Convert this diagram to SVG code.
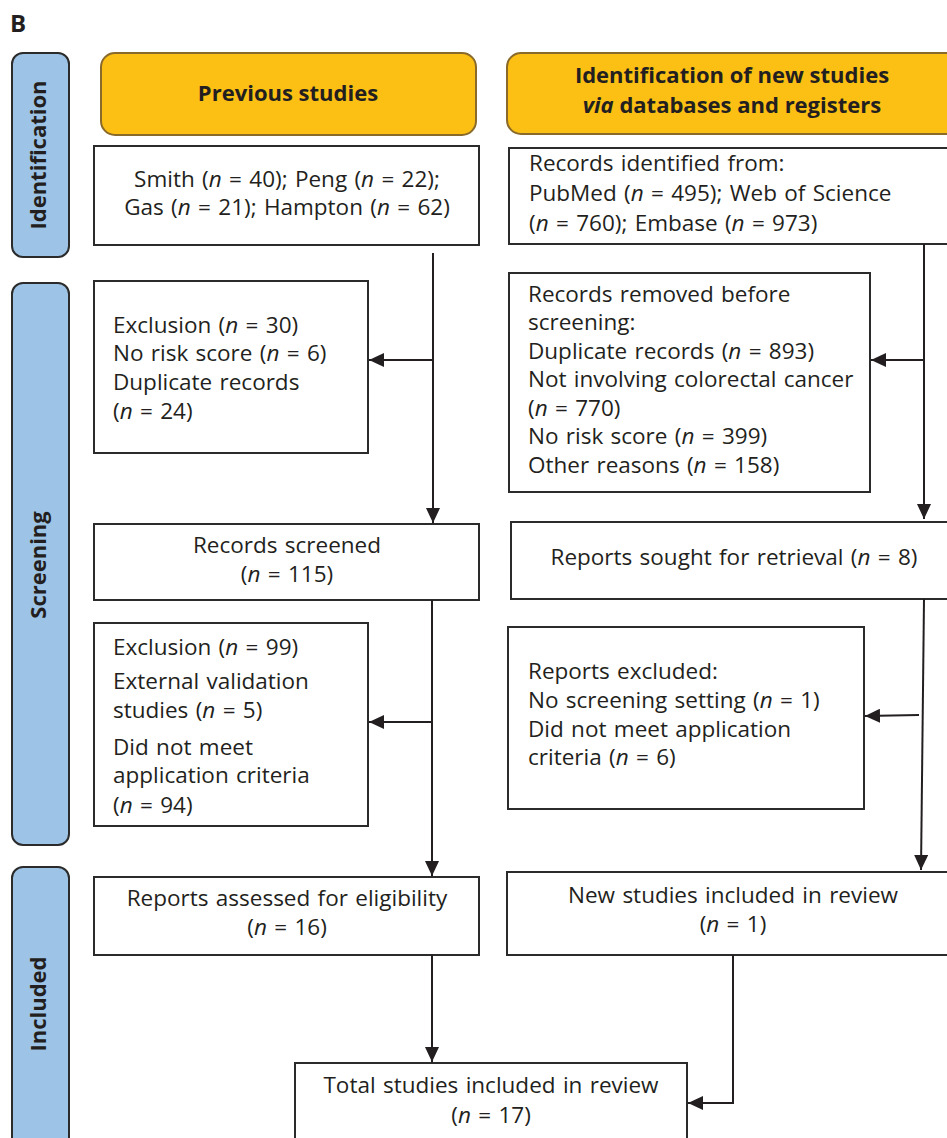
<svg xmlns="http://www.w3.org/2000/svg" width="947" height="1138" viewBox="0 0 947 1138">
<style>
text{font-family:"Open Sans","Noto Sans","Liberation Sans",sans-serif;font-size:22.5px;word-spacing:1.5px;fill:#231f20}
.b{font-weight:bold;font-size:22px;word-spacing:0}
.c{text-anchor:middle}
.i{font-style:italic}
.side{fill:#9dc3e6;stroke:#2b2b2b;stroke-width:2}
.head{fill:#fbc013;stroke:#8a6a2a;stroke-width:2}
.box{fill:#fff;stroke:#2b2b2b;stroke-width:2}
.ln{fill:none;stroke:#231f20;stroke-width:2}
</style>
<defs>
<marker id="ah" markerUnits="userSpaceOnUse" markerWidth="16" markerHeight="14" refX="15" refY="7" orient="auto">
<path d="M0,0 L15,7 L0,14 z" fill="#231f20"/>
</marker>
</defs>
<rect width="947" height="1138" fill="#fff"/>
<text class="b" x="10" y="32" style="font-size:24px">B</text>

<g id="side-identification">
<rect class="side" x="12" y="53" width="57" height="204" rx="11"/>
<text class="b c" transform="translate(46,155) rotate(-90)">Identification</text>
</g>
<g id="side-screening">
<rect class="side" x="12" y="283" width="57" height="562" rx="11"/>
<text class="b c" transform="translate(46,565) rotate(-90)">Screening</text>
</g>
<g id="side-included">
<rect class="side" x="12" y="867" width="57" height="290" rx="11"/>
<text class="b c" transform="translate(46,1004) rotate(-90)">Included</text>
</g>

<g id="head-previous">
<rect class="head" x="101" y="53" width="375" height="82" rx="14"/>
<text class="b c" x="288" y="101">Previous studies</text>
</g>
<g id="head-new">
<rect class="head" x="507" y="53" width="460" height="81" rx="14"/>
<text class="b c" x="732" y="83">Identification of new studies</text>
<text class="b c" x="732" y="113"><tspan class="i">via</tspan> databases and registers</text>
</g>

<g id="prev-records">
<rect class="box" x="94" y="146" width="385" height="99"/>
<text class="c" x="287" y="187">Smith (<tspan class="i">n</tspan> = 40); Peng (<tspan class="i">n</tspan> = 22);</text>
<text class="c" x="287" y="215">Gas (<tspan class="i">n</tspan> = 21); Hampton (<tspan class="i">n</tspan> = 62)</text>
</g>
<g id="new-records">
<rect class="box" x="509" y="148" width="460" height="96"/>
<text x="529" y="171">Records identified from:</text>
<text x="529" y="201">PubMed (<tspan class="i">n</tspan> = 495); Web of Science</text>
<text x="529" y="231">(<tspan class="i">n</tspan> = 760); Embase (<tspan class="i">n</tspan> = 973)</text>
</g>

<g id="prev-exclusion1">
<rect class="box" x="94" y="281" width="274" height="172"/>
<text x="113" y="333">Exclusion (<tspan class="i">n</tspan> = 30)</text>
<text x="113" y="361">No risk score (<tspan class="i">n</tspan> = 6)</text>
<text x="113" y="390">Duplicate records</text>
<text x="113" y="419">(<tspan class="i">n</tspan> = 24)</text>
</g>
<g id="new-removed">
<rect class="box" x="509" y="273" width="361" height="219"/>
<text x="528" y="302">Records removed before</text>
<text x="528" y="330">screening:</text>
<text x="528" y="359">Duplicate records (<tspan class="i">n</tspan> = 893)</text>
<text x="528" y="387">Not involving colorectal cancer</text>
<text x="528" y="416">(<tspan class="i">n</tspan> = 770)</text>
<text x="528" y="444">No risk score (<tspan class="i">n</tspan> = 399)</text>
<text x="528" y="473">Other reasons (<tspan class="i">n</tspan> = 158)</text>
</g>

<g id="prev-screened">
<rect class="box" x="94" y="524" width="385" height="76"/>
<text class="c" x="287" y="553">Records screened</text>
<text class="c" x="287" y="582">(<tspan class="i">n</tspan> = 115)</text>
</g>
<g id="new-sought">
<rect class="box" x="511" y="522" width="460" height="77"/>
<text class="c" x="734" y="565">Reports sought for retrieval (<tspan class="i">n</tspan> = 8)</text>
</g>

<g id="prev-exclusion2">
<rect class="box" x="94" y="623" width="274" height="203"/>
<text x="113" y="655">Exclusion (<tspan class="i">n</tspan> = 99)</text>
<text x="113" y="689">External validation</text>
<text x="113" y="718">studies (<tspan class="i">n</tspan> = 5)</text>
<text x="113" y="755">Did not meet</text>
<text x="113" y="783">application criteria</text>
<text x="113" y="813">(<tspan class="i">n</tspan> = 94)</text>
</g>
<g id="new-excluded">
<rect class="box" x="508" y="627" width="356" height="182"/>
<text x="528" y="679">Reports excluded:</text>
<text x="528" y="708">No screening setting (<tspan class="i">n</tspan> = 1)</text>
<text x="528" y="737">Did not meet application</text>
<text x="528" y="765">criteria (<tspan class="i">n</tspan> = 6)</text>
</g>

<g id="prev-assessed">
<rect class="box" x="94" y="877" width="385" height="78"/>
<text class="c" x="287" y="906">Reports assessed for eligibility</text>
<text class="c" x="287" y="935">(<tspan class="i">n</tspan> = 16)</text>
</g>
<g id="new-included">
<rect class="box" x="507" y="872" width="460" height="83"/>
<text class="c" x="733" y="903">New studies included in review</text>
<text class="c" x="733" y="932">(<tspan class="i">n</tspan> = 1)</text>
</g>

<g id="total">
<rect class="box" x="295" y="1063" width="392" height="90"/>
<text class="c" x="491" y="1093">Total studies included in review</text>
<text class="c" x="491" y="1123">(<tspan class="i">n</tspan> = 17)</text>
</g>

<g id="connectors">
<line class="ln" x1="433" y1="253" x2="433" y2="523" marker-end="url(#ah)"/>
<line class="ln" x1="433" y1="360" x2="369" y2="360" marker-end="url(#ah)"/>
<line class="ln" x1="432" y1="600" x2="432" y2="876" marker-end="url(#ah)"/>
<line class="ln" x1="432" y1="722" x2="369" y2="722" marker-end="url(#ah)"/>
<line class="ln" x1="432" y1="955" x2="432" y2="1062" marker-end="url(#ah)"/>
<line class="ln" x1="924" y1="244" x2="924" y2="519" marker-end="url(#ah)"/>
<line class="ln" x1="924" y1="360" x2="871" y2="360" marker-end="url(#ah)"/>
<line class="ln" x1="924" y1="599" x2="921" y2="870" marker-end="url(#ah)"/>
<line class="ln" x1="919" y1="715" x2="865" y2="716" marker-end="url(#ah)"/>
<polyline class="ln" points="733,955 733,1103 688,1103" marker-end="url(#ah)"/>
</g>
</svg>
